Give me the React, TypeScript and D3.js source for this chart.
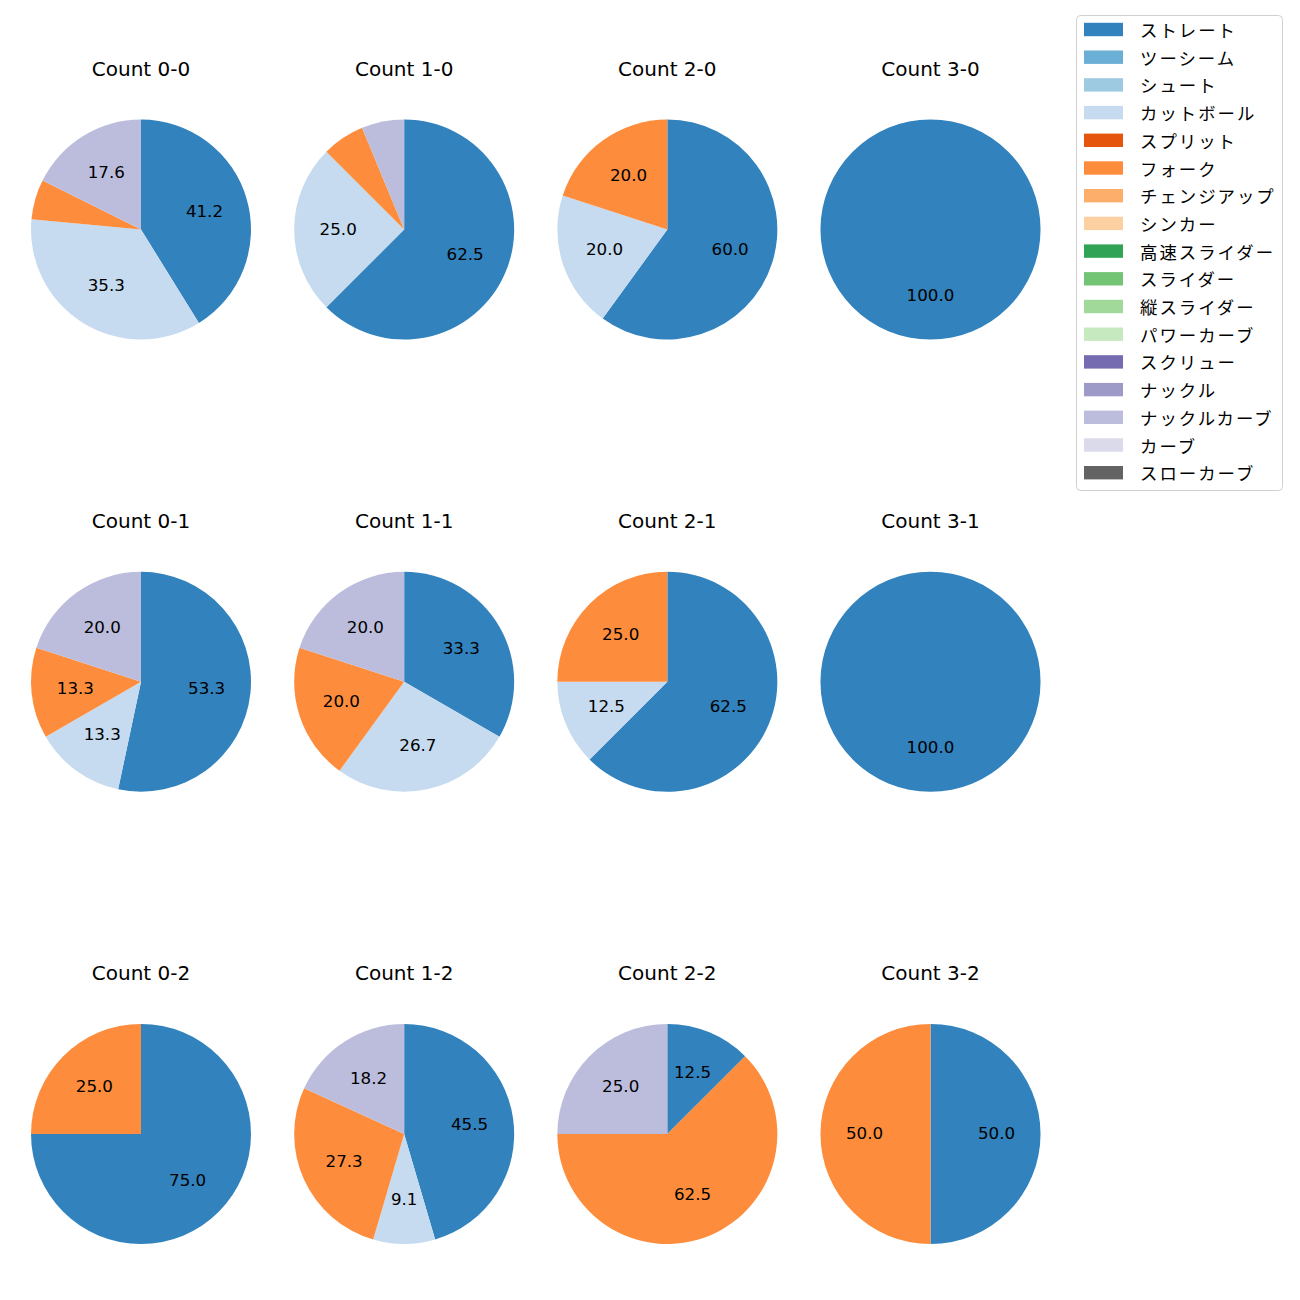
import React from "react";
import * as d3 from "d3";

const pitchTypes = [
  "ストレート", "ツーシーム", "シュート", "カットボール", "スプリット", "フォーク",
  "チェンジアップ", "シンカー", "高速スライダー", "スライダー", "縦スライダー",
  "パワーカーブ", "スクリュー", "ナックル", "ナックルカーブ", "カーブ", "スローカーブ",
];
const pitchColors = [
  "#3182bd", "#6baed6", "#9ecae1", "#c6dbef", "#e6550d", "#fd8d3c",
  "#fdae6b", "#fdd0a2", "#31a354", "#74c476", "#a1d99b", "#c7e9c0",
  "#756bb1", "#9e9ac8", "#bcbddc", "#dadaeb", "#636363",
];

// counts in order: row = strikes (0..2), col = balls (0..3)
const countLabels = ["0-0", "1-0", "2-0", "3-0", "0-1", "1-1", "2-1", "3-1", "0-2", "1-2", "2-2", "3-2"];

// pitch counts per count situation
const straight = [7, 10, 3, 1, 8, 5, 5, 1, 3, 5, 1, 1];
const cutBall = [6, 4, 1, 0, 2, 4, 1, 0, 0, 1, 0, 0];
const fork = [1, 1, 1, 0, 2, 3, 2, 0, 1, 3, 5, 1];
const knuckleCurve = [3, 1, 0, 0, 3, 3, 0, 0, 0, 2, 2, 0];

const seriesByType: Record<string, number[]> = {
  "ストレート": straight,
  "カットボール": cutBall,
  "フォーク": fork,
  "ナックルカーブ": knuckleCurve,
};

const LATIN = "'DejaVu Sans', 'Noto Sans CJK JP', sans-serif";
const CJK = "'Noto Sans CJK JP', 'DejaVu Sans', sans-serif";

export default function App() {
  const colX = d3.scaleLinear().domain([0, 3]).range([141, 930.5]);
  const rowY = d3.scaleLinear().domain([0, 2]).range([229.5, 1134]);
  const R = 110;
  const color = d3.scaleOrdinal<string, string>().domain(pitchTypes).range(pitchColors);
  const pie = d3.pie<{ type: string; v: number }>().sort(null).value((d) => d.v).startAngle(0).endAngle(2 * Math.PI);
  const arc = d3.arc<d3.PieArcDatum<{ type: string; v: number }>>().innerRadius(0).outerRadius(R);
  const labelArc = d3.arc<d3.PieArcDatum<{ type: string; v: number }>>().innerRadius(R * 0.6).outerRadius(R * 0.6);

  const legendY = d3.scaleLinear().domain([0, 16]).range([29.5, 472.7]);
  const titleFs = 20;
  const labelFs = 16.7;

  return (
    <svg width={1300} height={1300} style={{ position: "absolute", left: 0, top: 0 }}>
      <rect width={1300} height={1300} fill="white" />
      {countLabels.map((lab, i) => {
        const col = i % 4;
        const row = Math.floor(i / 4);
        const cx = colX(col);
        const cy = rowY(row);
        const data = pitchTypes
          .filter((t) => seriesByType[t] && seriesByType[t][i] > 0)
          .map((t) => ({ type: t, v: seriesByType[t][i] }));
        const total = d3.sum(data, (d) => d.v);
        const arcs = pie(data);
        return (
          <g key={lab}>
            <text x={cx} y={cy - 161.1 + 0.3645 * titleFs} textAnchor="middle" fontFamily={LATIN} fontSize={titleFs} fill="#000">
              {"Count " + lab}
            </text>
            <g transform={`translate(${cx},${cy})`}>
              {arcs.map((a) => (
                <path key={a.data.type} d={arc(a) || ""} fill={color(a.data.type)} />
              ))}
              {arcs.map((a) => {
                const pct = (a.data.v / total) * 100;
                if (pct < 7) return null;
                const [lx, ly] = labelArc.centroid(a);
                return (
                  <text key={"l" + a.data.type} x={lx} y={ly - 1 + 0.3645 * labelFs} textAnchor="middle" fontFamily={LATIN} fontSize={labelFs} fill="#000">
                    {pct.toFixed(1)}
                  </text>
                );
              })}
            </g>
          </g>
        );
      })}
      <rect x={1076.5} y={15.5} width={206} height={475} rx={4} ry={4} fill="white" stroke="#d0d0d0" strokeWidth={1} />
      {pitchTypes.map((t, i) => (
        <g key={t}>
          <rect x={1084} y={legendY(i) - 6.7} width={39} height={13.4} fill={color(t)} />
          <text x={1140} y={legendY(i)} dominantBaseline="central" fontFamily={CJK} fontSize={17.4} letterSpacing={2} fill="#000">
            {t}
          </text>
        </g>
      ))}
    </svg>
  );
}
